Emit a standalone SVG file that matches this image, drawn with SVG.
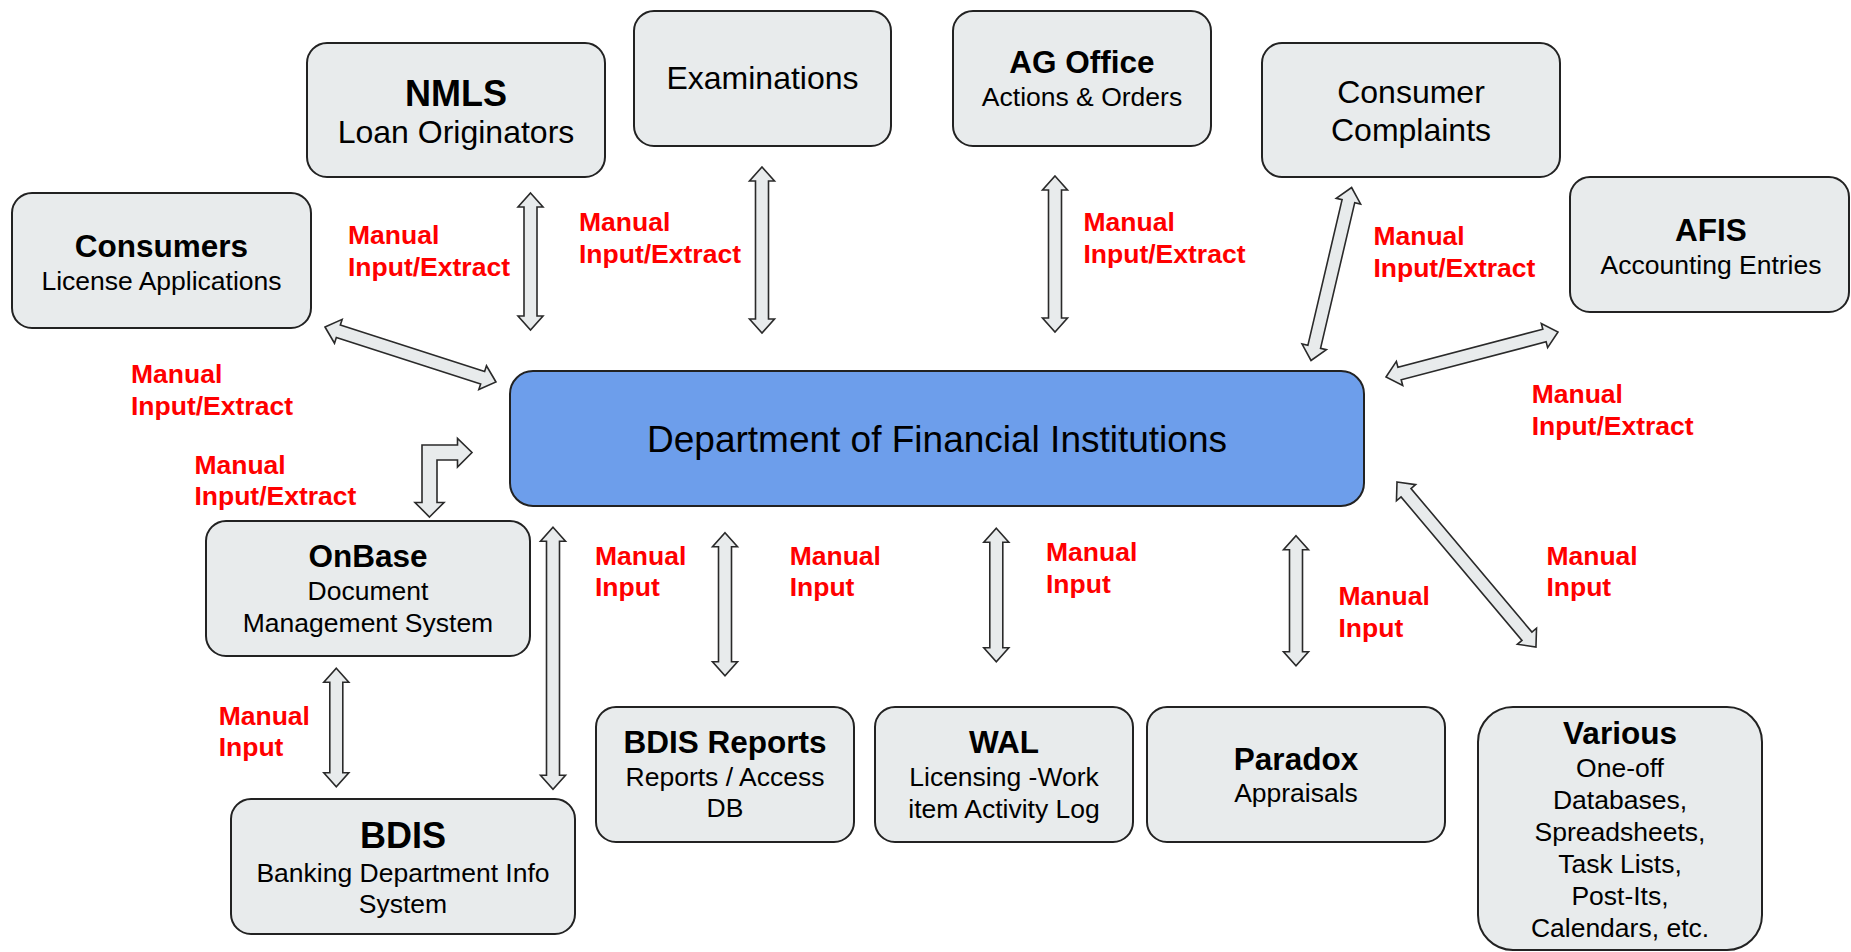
<svg xmlns="http://www.w3.org/2000/svg" width="1851" height="952" viewBox="0 0 1851 952">
<style>
.box{fill:#e8ebec;stroke:#222;stroke-width:2}
.main{fill:#6d9eeb;stroke:#222;stroke-width:2}
.arr{fill:#e8ebec;stroke:#2a2a2a;stroke-width:1.6;stroke-linejoin:miter}
text{font-family:"Liberation Sans",Arial,sans-serif;fill:#000}
.t{font-weight:bold;font-size:31.5px;text-anchor:middle}
.tb{font-weight:bold;font-size:36px;text-anchor:middle}
.s{font-size:26.5px;text-anchor:middle}
.m{font-size:32px;text-anchor:middle}
.lbl{font-weight:bold;font-size:26.5px;fill:#ff0000}
</style>
<rect width="1851" height="952" fill="#fff"/>

<g id="connectors">
<polygon class="arr" transform="translate(530.5 193) rotate(90)" points="0,0 14,-12.5 14,-6.5 123,-6.5 123,-12.5 137,0 123,12.5 123,6.5 14,6.5 14,12.5"/>
<polygon class="arr" transform="translate(762 167) rotate(90)" points="0,0 14,-12.5 14,-6.5 152,-6.5 152,-12.5 166,0 152,12.5 152,6.5 14,6.5 14,12.5"/>
<polygon class="arr" transform="translate(1055 176) rotate(90)" points="0,0 14,-12.5 14,-6.5 142,-6.5 142,-12.5 156,0 142,12.5 142,6.5 14,6.5 14,12.5"/>
<polygon class="arr" transform="translate(1351.6 187.5) rotate(103.2)" points="0,0 14,-12.5 14,-6.5 163.7,-6.5 163.7,-12.5 177.7,0 163.7,12.5 163.7,6.5 14,6.5 14,12.5"/>
<polygon class="arr" transform="translate(1386 377) rotate(-14.66)" points="0,0 14,-12.5 14,-6.5 163.8,-6.5 163.8,-12.5 177.8,0 163.8,12.5 163.8,6.5 14,6.5 14,12.5"/>
<polygon class="arr" transform="translate(325 327) rotate(17.83)" points="0,0 14,-12.5 14,-6.5 165.6,-6.5 165.6,-12.5 179.6,0 165.6,12.5 165.6,6.5 14,6.5 14,12.5"/>
<polygon class="arr" points="429.5,517 444,502.5 437,502.5 437,460 457.5,460 457.5,467 472,452.5 457.5,438.5 457.5,445 422,445 422,502.5 415,502.5"/>
<polygon class="arr" transform="translate(336.3 668.3) rotate(90)" points="0,0 14,-12.5 14,-6.5 104.4,-6.5 104.4,-12.5 118.4,0 104.4,12.5 104.4,6.5 14,6.5 14,12.5"/>
<polygon class="arr" transform="translate(553 527.3) rotate(90)" points="0,0 14,-12.5 14,-6.5 248,-6.5 248,-12.5 262,0 248,12.5 248,6.5 14,6.5 14,12.5"/>
<polygon class="arr" transform="translate(725 532.7) rotate(90)" points="0,0 14,-12.5 14,-6.5 129,-6.5 129,-12.5 143,0 129,12.5 129,6.5 14,6.5 14,12.5"/>
<polygon class="arr" transform="translate(996.3 528.3) rotate(90)" points="0,0 14,-12.5 14,-6.5 119.4,-6.5 119.4,-12.5 133.4,0 119.4,12.5 119.4,6.5 14,6.5 14,12.5"/>
<polygon class="arr" transform="translate(1296 535.7) rotate(90)" points="0,0 14,-12.5 14,-6.5 116,-6.5 116,-12.5 130,0 116,12.5 116,6.5 14,6.5 14,12.5"/>
<polygon class="arr" transform="translate(1397 482) rotate(49.89)" points="0,0 14,-12.5 14,-6.5 201.7,-6.5 201.7,-12.5 215.7,0 201.7,12.5 201.7,6.5 14,6.5 14,12.5"/>

<text class="lbl" x="348" y="244">Manual</text><text class="lbl" x="348" y="276">Input/Extract</text>
<text class="lbl" x="579" y="231">Manual</text><text class="lbl" x="579" y="263">Input/Extract</text>
<text class="lbl" x="1083.5" y="231">Manual</text><text class="lbl" x="1083.5" y="263">Input/Extract</text>
<text class="lbl" x="1373.4" y="245">Manual</text><text class="lbl" x="1373.4" y="277">Input/Extract</text>
<text class="lbl" x="1531.7" y="403">Manual</text><text class="lbl" x="1531.7" y="434.5">Input/Extract</text>
<text class="lbl" x="131" y="383">Manual</text><text class="lbl" x="131" y="414.5">Input/Extract</text>
<text class="lbl" x="194.4" y="473.5">Manual</text><text class="lbl" x="194.4" y="505">Input/Extract</text>
<text class="lbl" x="218.7" y="724.5">Manual</text><text class="lbl" x="218.7" y="756">Input</text>
<text class="lbl" x="595" y="564.5">Manual</text><text class="lbl" x="595" y="596">Input</text>
<text class="lbl" x="789.7" y="564.5">Manual</text><text class="lbl" x="789.7" y="596">Input</text>
<text class="lbl" x="1046" y="561">Manual</text><text class="lbl" x="1046" y="592.5">Input</text>
<text class="lbl" x="1338.5" y="605">Manual</text><text class="lbl" x="1338.5" y="636.7">Input</text>
<text class="lbl" x="1546.4" y="564.5">Manual</text><text class="lbl" x="1546.4" y="596">Input</text>
</g>

<g id="nmls"><rect class="box" x="307" y="43" width="298" height="134" rx="20"/>
<text class="tb" x="456" y="106">NMLS</text><text class="m" x="456" y="143">Loan Originators</text></g>

<g id="examinations"><rect class="box" x="634" y="11" width="257" height="135" rx="20"/>
<text class="m" x="762.5" y="89">Examinations</text></g>

<g id="ag-office"><rect class="box" x="953" y="11" width="258" height="135" rx="20"/>
<text class="t" x="1082" y="73">AG Office</text><text class="s" x="1082" y="106">Actions &amp; Orders</text></g>

<g id="consumer-complaints"><rect class="box" x="1262" y="43" width="298" height="134" rx="20"/>
<text class="m" x="1411" y="102.7">Consumer</text><text class="m" x="1411" y="140.7">Complaints</text></g>

<g id="afis"><rect class="box" x="1570" y="177" width="279" height="135" rx="20"/>
<text class="t" x="1711" y="240.7">AFIS</text><text class="s" x="1711" y="274">Accounting Entries</text></g>

<g id="consumers"><rect class="box" x="12" y="193" width="299" height="135" rx="20"/>
<text class="t" x="161.5" y="256.7">Consumers</text><text class="s" x="161.5" y="290">License Applications</text></g>

<g id="dfi"><rect class="main" x="510" y="371" width="854" height="135" rx="23"/>
<text x="937" y="451.5" style="font-size:37px;text-anchor:middle">Department of Financial Institutions</text></g>

<g id="onbase"><rect class="box" x="206" y="521" width="324" height="135" rx="20"/>
<text class="t" x="368" y="566.7">OnBase</text><text class="s" x="368" y="600">Document</text><text class="s" x="368" y="631.7">Management System</text></g>

<g id="bdis"><rect class="box" x="231" y="799" width="344" height="135" rx="20"/>
<text class="tb" x="403" y="847.7">BDIS</text><text class="s" x="403" y="881.7">Banking Department Info</text><text class="s" x="403" y="913.3">System</text></g>

<g id="bdis-reports"><rect class="box" x="596" y="707" width="258" height="135" rx="20"/>
<text class="t" x="725" y="753">BDIS Reports</text><text class="s" x="725" y="786">Reports / Access</text><text class="s" x="725" y="817">DB</text></g>

<g id="wal"><rect class="box" x="875" y="707" width="258" height="135" rx="20"/>
<text class="t" x="1004" y="753">WAL</text><text class="s" x="1004" y="786">Licensing -Work</text><text class="s" x="1004" y="817.5">item Activity Log</text></g>

<g id="paradox"><rect class="box" x="1147" y="707" width="298" height="135" rx="20"/>
<text class="t" x="1296" y="770">Paradox</text><text class="s" x="1296" y="801.7">Appraisals</text></g>

<g id="various"><rect class="box" x="1478" y="707" width="284" height="243" rx="35"/>
<text class="t" x="1620" y="744">Various</text>
<text class="s" x="1620" y="777.3">One-off</text>
<text class="s" x="1620" y="809">Databases,</text>
<text class="s" x="1620" y="840.7">Spreadsheets,</text>
<text class="s" x="1620" y="873.3">Task Lists,</text>
<text class="s" x="1620" y="905">Post-Its,</text>
<text class="s" x="1620" y="936.7">Calendars, etc.</text></g>
</svg>
